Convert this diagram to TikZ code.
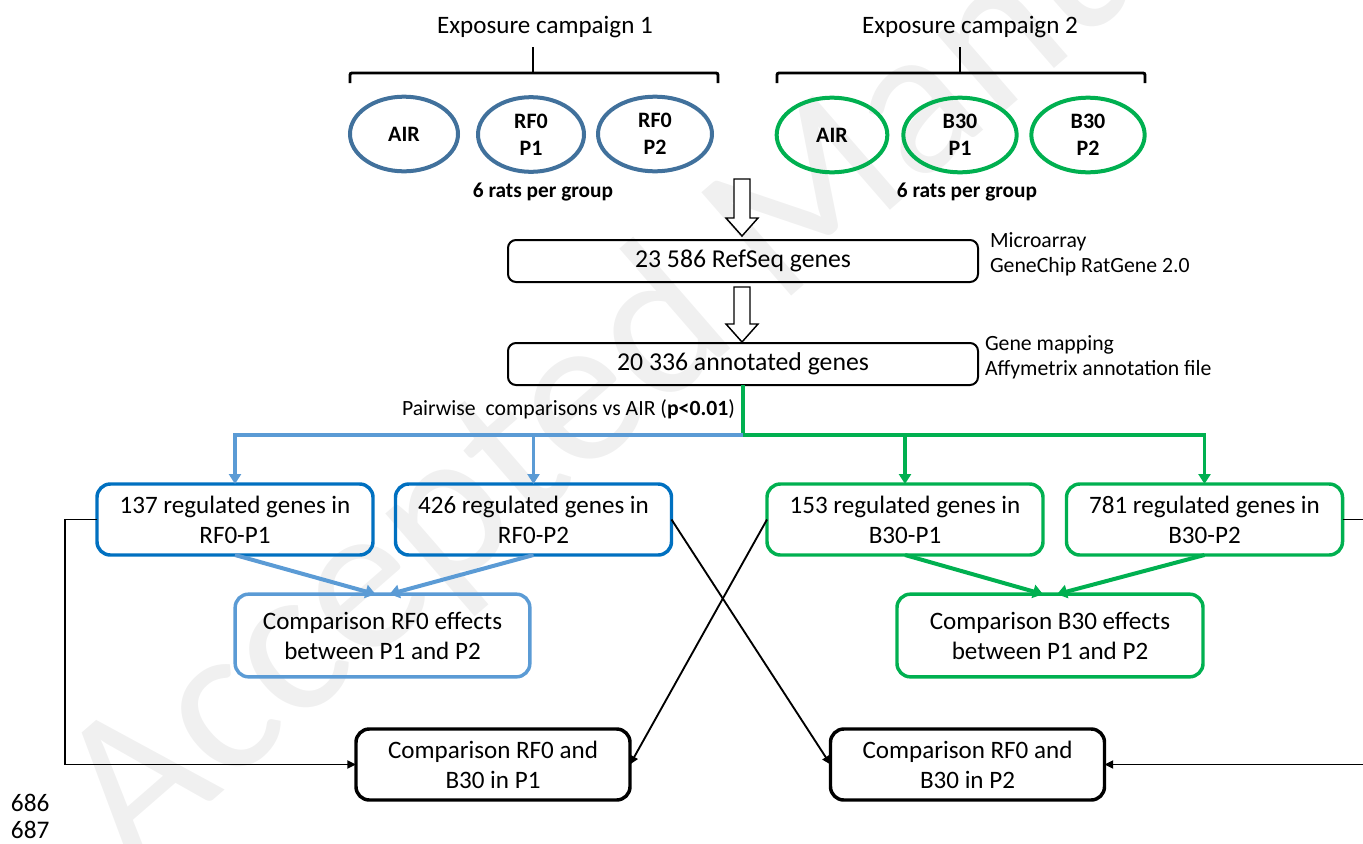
\documentclass[tikz,border=0pt]{standalone}
\usepackage{fontspec}
\setmainfont{Carlito}
\usetikzlibrary{shapes.geometric,arrows.meta,calc}
\definecolor{campblue}{HTML}{41719C}
\definecolor{campgreen}{HTML}{00B050}
\definecolor{boxblue}{HTML}{0070C0}
\definecolor{lightblue}{HTML}{5B9BD5}
\definecolor{wmgray}{HTML}{F0F0F0}
\newcommand{\boxfont}{\fontsize{18.8}{22.5}\selectfont}
\newcommand{\sidefont}{\fontsize{16.3}{18.75}\selectfont}
\begin{document}
\begin{tikzpicture}[x=0.75pt,y=-0.75pt,
  every node/.style={inner sep=0pt, outer sep=0pt},
  ell/.style={ellipse, line width=3pt, minimum height=56pt, align=center,
    font=\fontsize{16.5}{20.5}\selectfont\bfseries},
  ellA/.style={ell, draw=campblue},
  ellB/.style={ell, draw=campgreen},
  brace/.style={line width=2.2pt, rounded corners=1.5pt},
  topbox/.style={draw, rounded corners=6pt, line width=1.5pt, minimum width=352.5pt,
    minimum height=31.5pt, font=\fontsize{19.3}{22}\selectfont},
  hollow/.style={draw, line width=1.1pt, fill=white, line join=miter},
  regbox/.style={rounded corners=10pt, line width=2.6pt, minimum width=207pt,
    minimum height=53.25pt, align=center, font=\boxfont},
  regblue/.style={regbox, draw=boxblue},
  reggreen/.style={regbox, draw=campgreen},
  cmpbox/.style={rounded corners=10pt, line width=2.6pt, minimum height=62pt,
    align=center, font=\boxfont},
  finalbox/.style={rounded corners=10pt, line width=2.6pt, draw=black, minimum width=205.5pt,
    minimum height=53.25pt, align=center, font=\boxfont},
  distblue/.style={draw=lightblue, line width=2.3pt, -{Triangle[width=9pt,length=7.5pt]}},
  distgreen/.style={draw=campgreen, line width=2.3pt, -{Triangle[width=9pt,length=7.5pt]}},
  mergeblue/.style={draw=lightblue, line width=3pt, -{Triangle[width=10pt,length=7.5pt]}},
  mergegreen/.style={draw=campgreen, line width=3pt, -{Triangle[width=10pt,length=7.5pt]}},
  cross/.style={draw=black, line width=1.4pt, -{Triangle[width=6pt,length=6.5pt]}},
  sidelabel/.style={anchor=west, align=left, font=\sidefont},
  lineno/.style={font=\fontsize{19}{21}\selectfont}
]
\useasboundingbox (0,0) rectangle (1363,843);
% watermark
\node[anchor=base west, rotate=41, text=wmgray, font=\fontsize{160}{160}\selectfont] (wm) at (132,870) {Accepted Manuscript};

% campaign titles and braces
\node[font=\boxfont] (t1) at (545,27) {Exposure campaign 1};
\node[font=\boxfont] (t2) at (970,27) {Exposure campaign 2};
\draw[brace] (350,83) -- (350,73) -- (718,73) -- (718,83);
\draw[brace] (533,47) -- (533,73);
\draw[brace] (777,83) -- (777,73) -- (1145,73) -- (1145,83);
\draw[brace] (960,47) -- (960,73);

% groups
\node[ellA, minimum width=81pt] (a1) at (404,134) {AIR};
\node[ellA, minimum width=79.5pt] (a2) at (531,134.5) {RF0\\P1};
\node[ellA, minimum width=85.5pt] (a3) at (655,134) {RF0\\P2};
\node[ellB, minimum width=83pt] (b1) at (832,135) {AIR};
\node[ellB, minimum width=85pt] (b2) at (960,135) {B30\\P1};
\node[ellB, minimum width=85pt] (b3) at (1088,135) {B30\\P2};
\node[font=\fontsize{16}{19}\selectfont\bfseries] (r1) at (543,192) {6 rats per group};
\node[font=\fontsize{16}{19}\selectfont\bfseries] (r2) at (967,192) {6 rats per group};

% gene boxes
\node[topbox] (g1) at (743,261) {23 586 RefSeq genes};
\node[topbox] (g2) at (743,364) {20 336 annotated genes};
\node[sidelabel] (s1) at (990,254) {Microarray\\GeneChip RatGene 2.0};
\node[sidelabel] (s2) at (985,357) {Gene mapping\\Affymetrix annotation file};

% hollow arrows
\coordinate (h1) at (742,179);
\draw[hollow] (h1) ++(-8,0) -- ++(16,0) -- ++(0,39) -- ++(8,0) -- ++(-16,18) -- ++(-16,-18) -- ++(8,0) -- cycle;
\coordinate (h2) at (742,287);
\draw[hollow] (h2) ++(-8,0) -- ++(16,0) -- ++(0,37) -- ++(8,0) -- ++(-16,18) -- ++(-16,-18) -- ++(8,0) -- cycle;

\node[font=\sidefont, anchor=east] (pw) at (735,409) {Pairwise~ comparisons vs AIR (\textbf{p<0.01})};

% regulated gene boxes
\node[regblue] (A) at (235,519.5) {137 regulated genes in\\RF0-P1};
\node[regblue] (B) at (533.5,519.5) {426 regulated genes in\\RF0-P2};
\node[reggreen] (C) at (905,519.5) {153 regulated genes in\\B30-P1};
\node[reggreen] (D) at (1204.5,519.5) {781 regulated genes in\\B30-P2};

% comparison boxes
\node[cmpbox, draw=lightblue, minimum width=221pt] (E) at (382.5,635.5) {Comparison RF0 effects\\between P1 and P2};
\node[cmpbox, draw=campgreen, minimum width=229.5pt] (F) at (1050,635.5) {Comparison B30 effects\\between P1 and P2};
\node[finalbox] (G) at (493,764.5) {Comparison RF0 and\\B30 in P1};
\node[finalbox] (H) at (967.5,764.5) {Comparison RF0 and\\B30 in P2};

% distribution lines
\coordinate (J) at (743,435);
\draw[draw=campgreen, line width=2.3pt] (g2.south) -- (J);
\draw[distblue] (J) -| (A.north);
\draw[distblue] (B.north |- J) -- (B.north);
\draw[distgreen] (J) -| (D.north);
\draw[distgreen] (C.north |- J) -- (C.north);

% merges
\draw[mergeblue] (A.south) -- ($(E.north)+(-7,0)$);
\draw[mergeblue] (B.south) -- ($(E.north)+(7,0)$);
\draw[mergegreen] (C.south) -- ($(F.north)+(-7,0)$);
\draw[mergegreen] (D.south) -- ($(F.north)+(7,0)$);

% cross comparisons
\draw[cross] (A.west) -- ++(-32,0) |- (G.west);
\draw[cross] (B.east) -- (H.west);
\draw[cross] (C.west) -- (G.east);
\draw[cross] (D.east) -- ++(21,0) |- (H.east);

% line numbers
\node[lineno, anchor=west] (n1) at (11,803) {686};
\node[lineno, anchor=west] (n2) at (11,830) {687};
\end{tikzpicture}
\end{document}
